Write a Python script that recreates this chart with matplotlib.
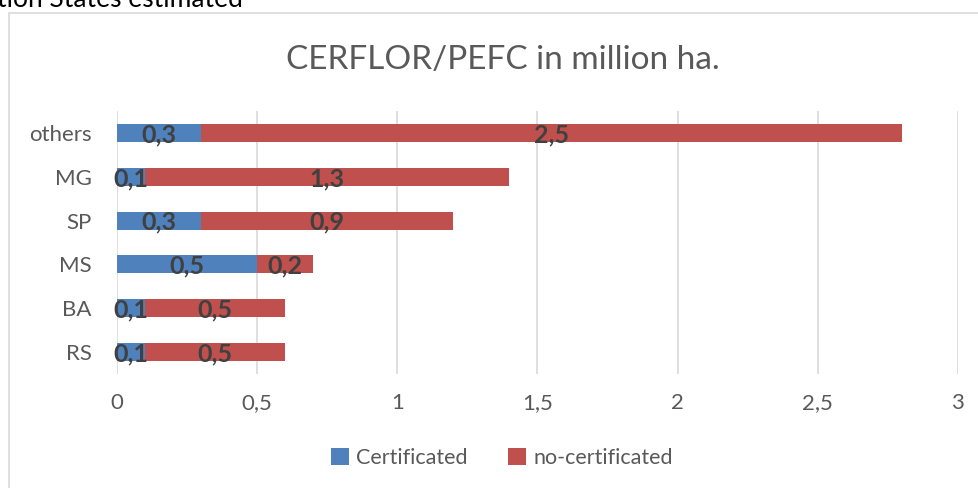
import matplotlib.pyplot as plt
from matplotlib.patches import Rectangle

# Data (million ha), bottom to top as in the chart
states = ['RS', 'BA', 'MS', 'SP', 'MG', 'others']
certificated = [0.1, 0.1, 0.5, 0.3, 0.1, 0.3]
no_certificated = [0.5, 0.5, 0.2, 0.9, 1.3, 2.5]
xticks = [0, 0.5, 1, 1.5, 2, 2.5, 3]

blue = '#4f81bd'
red = '#c0504d'
grey_txt = '#595959'
label_txt = '#404040'

plt.rcParams['font.family'] = ['Lato', 'DejaVu Sans']

fig = plt.figure(figsize=(9.79, 4.88), dpi=100)
ax = fig.add_axes([0.1195, 0.2336, 0.859, 0.539])

# Chart frame (cut off at right and bottom like the screenshot)
fig.patches.append(Rectangle((9 / 979, -0.1), 1.1, 0.1 + 1 - 13 / 488,
                             transform=fig.transFigure, fill=False,
                             edgecolor='#d9d9d9', linewidth=1.2, zorder=0))

# Text from the page above the chart (cut at the top, as in the screenshot)
fig.text(-0.003, 1 - 7 / 488, 'tion States estimated', fontsize=19,
         color='black', ha='left', va='baseline')

y = range(len(states))
b1 = ax.barh(y, certificated, height=0.41, color=blue, label='Certificated', zorder=3)
b2 = ax.barh(y, no_certificated, left=certificated, height=0.41, color=red,
             label='no-certificated', zorder=3)

for bars in (b1, b2):
    for bar in bars:
        w = bar.get_width()
        cx = bar.get_x() + w / 2
        cy = bar.get_y() + bar.get_height() / 2
        ax.text(cx, cy - 0.04, ('%.1f' % w).replace('.', ','), ha='center', va='center',
                fontsize=18, fontweight='bold', color=label_txt, zorder=4)

ax.set_xlim(0, 3)
ax.set_ylim(-0.5, len(states) - 0.5)
ax.set_xticks(xticks)
ax.set_xticklabels([('%g' % t).replace('.', ',') for t in xticks])
ax.set_yticks(list(y))
ax.set_yticklabels(states)
ax.tick_params(axis='both', length=0, labelsize=16, colors=grey_txt)
ax.tick_params(axis='x', pad=14)
ax.tick_params(axis='y', pad=18)
ax.grid(axis='x', color='#d9d9d9', linewidth=1.2, zorder=0)
for s in ax.spines.values():
    s.set_visible(False)

fig.text(503 / 979, 1 - 60 / 488, 'CERFLOR/PEFC in million ha.', fontsize=24,
         color=grey_txt, ha='center', va='center')

fig.legend(handles=[b1, b2], loc='center', bbox_to_anchor=(502 / 979, 1 - 458 / 488),
           ncol=2, frameon=False, fontsize=15.5, handlelength=0.8, handleheight=0.8,
           handletextpad=0.35, columnspacing=1.9, labelcolor=grey_txt)

fig.savefig('out.png', dpi=100)
